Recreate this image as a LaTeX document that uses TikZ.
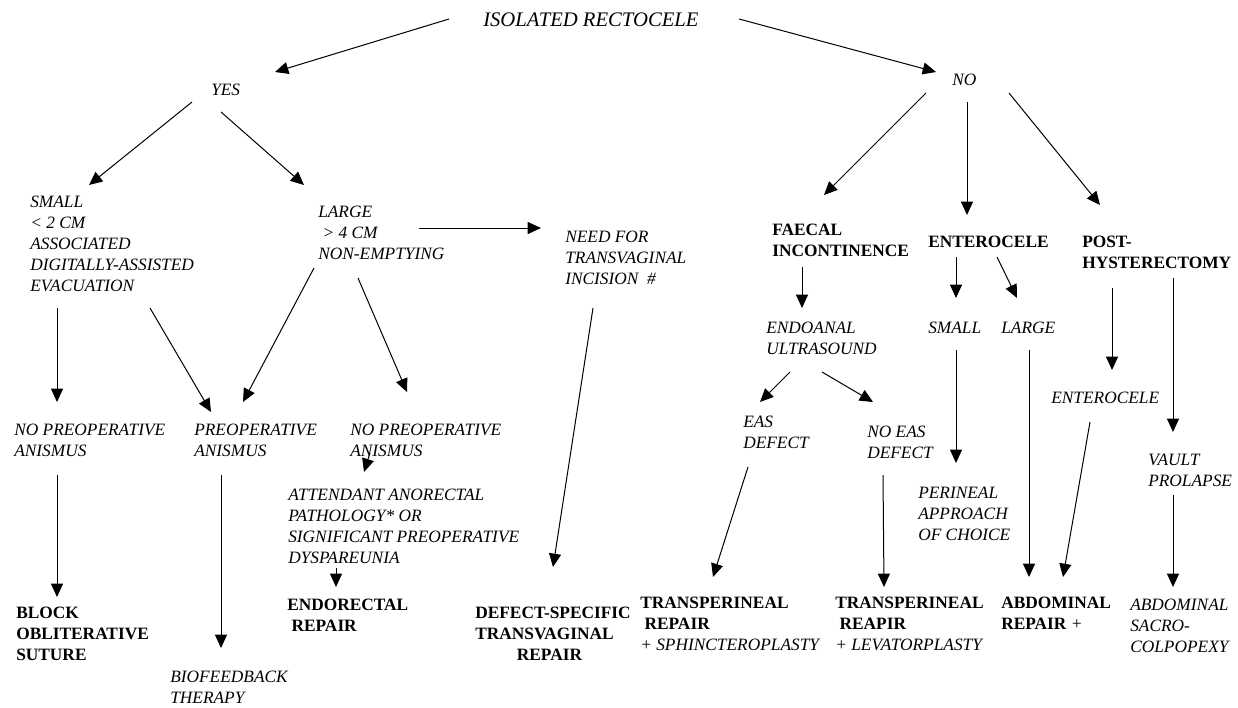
\documentclass[tikz,border=0pt]{standalone}
\usepackage{fontspec}
\setmainfont{Liberation Serif}
\usepackage{tikz}
\usetikzlibrary{arrows.meta}

\tikzset{
  cond/.style={anchor=base west, inner sep=0pt, align=left, font=\itshape},
  treat/.style={anchor=base west, inner sep=0pt, align=left, font=\bfseries},
  arr/.style={->, line width=0.75pt}
}

\begin{document}
\begin{tikzpicture}[x=0.75pt,y=-0.75pt,>={Triangle[length=10pt,width=9pt]}]
  \fontsize{13}{15.75}\selectfont
  \useasboundingbox (0,0) rectangle (1238,707);
  % top of the tree (nodes sit on the baseline of their last line)
  \node[cond, font=\itshape\fontsize{15.5}{18}\selectfont] (iso) at (483,26) {ISOLATED RECTOCELE};
  \node[cond] (yes) at (211,95) {YES};
  \node[cond] (no) at (952,85) {NO};
  % isolated: yes
  \node[cond] (small) at (30,291) {SMALL\\< 2 CM\\ASSOCIATED\\DIGITALLY-ASSISTED\\EVACUATION};
  \node[cond] (large) at (318,259) {LARGE\\\ > 4 CM\\NON-EMPTYING};
  \node[cond] (need) at (565,284) {NEED FOR\\TRANSVAGINAL\\INCISION \ \#};
  \node[cond] (nopreA) at (14,456) {NO PREOPERATIVE\\ANISMUS};
  \node[cond] (preop) at (194,456) {PREOPERATIVE\\ANISMUS};
  \node[cond] (nopreB) at (350,456) {NO PREOPERATIVE\\ANISMUS};
  \node[cond] (attend) at (288,563) {ATTENDANT ANORECTAL\\PATHOLOGY* OR\\SIGNIFICANT PREOPERATIVE\\DYSPAREUNIA};
  \node[treat] (block) at (16,660) {BLOCK\\OBLITERATIVE\\SUTURE};
  \node[cond] (biofb) at (170,703) {BIOFEEDBACK\\THERAPY};
  \node[treat] (endorect) at (287,631) {ENDORECTAL\\\ REPAIR};
  \node[treat] (defect) at (475,660) {DEFECT-SPECIFIC\\TRANSVAGINAL\\\hspace*{2.4em}REPAIR};
  % isolated: no
  \node[treat] (faecal) at (772,256) {FAECAL\\INCONTINENCE};
  \node[treat] (entero) at (928,247) {ENTEROCELE};
  \node[treat] (post) at (1082,268) {POST-\\HYSTERECTOMY};
  \node[cond] (endo) at (766,354) {ENDOANAL\\ULTRASOUND};
  \node[cond] (esmall) at (928,333) {SMALL};
  \node[cond] (elarge) at (1001,333) {LARGE};
  \node[cond] (pentero) at (1051,403) {ENTEROCELE};
  \node[cond] (vault) at (1148,486) {VAULT\\PROLAPSE};
  \node[cond] (eas) at (743,448) {EAS\\DEFECT};
  \node[cond] (noeas) at (867,458) {NO EAS\\DEFECT};
  \node[cond] (perineal) at (918,540) {PERINEAL\\APPROACH\\OF CHOICE};
  \node[treat] (transA) at (640,650) {TRANSPERINEAL\\\ REPAIR\\\textmd{\itshape + SPHINCTEROPLASTY}};
  \node[treat] (transB) at (835,650) {TRANSPERINEAL\\\ REAPIR\\\textmd{\itshape + LEVATORPLASTY}};
  \node[treat] (abdrep) at (1001,629) {ABDOMINAL\\REPAIR \textmd{\itshape +}};
  \node[cond] (sacro) at (1130,652) {ABDOMINAL\\SACRO-\\COLPOPEXY};

  % connectors
  \draw[arr] ([shift={(-34,-7)}]iso.base west) -- ([shift={(64,-23)}]yes.base west);
  \draw[arr] ([shift={(256,-7)}]iso.base west) -- ([shift={(-16,-13)}]no.base west);
  \draw[arr] ([shift={(-19,7)}]yes.base west) -- ([shift={(59,-106)}]small.base west);
  \draw[arr] ([shift={(10,17)}]yes.base west) -- ([shift={(-14,-74)}]large.base west);
  \draw[arr] ([shift={(101,-31)}]large.base west) -- ([shift={(-24,-56)}]need.base west);
  \draw[arr] ([shift={(-26,8)}]no.base west) -- ([shift={(52,-61)}]faecal.base west);
  \draw[arr] ([shift={(15,17)}]no.base west) -- ([shift={(39,-32)}]entero.base west);
  \draw[arr] ([shift={(57,8)}]no.base west) -- ([shift={(18,-63)}]post.base west);
  \draw[arr] ([shift={(27,17)}]small.base west) -- ([shift={(43,-54)}]nopreA.base west);
  \draw[arr] ([shift={(120,17)}]small.base west) -- ([shift={(17,-44)}]preop.base west);
  \draw[arr] ([shift={(-4,9)}]large.base west) -- ([shift={(49,-54)}]preop.base west);
  \draw[arr] ([shift={(40,19)}]large.base west) -- ([shift={(57,-64)}]nopreB.base west);
  \draw[arr] ([shift={(28,24)}]need.base west) -- ([shift={(78,-93)}]defect.base west);
  \draw[arr] ([shift={(30,11)}]faecal.base west) -- ([shift={(36,-46)}]endo.base west);
  \draw[arr] ([shift={(24,18)}]endo.base west) -- ([shift={(17,-46)}]eas.base west);
  \draw[arr] ([shift={(56,18)}]endo.base west) -- ([shift={(6,-56)}]noeas.base west);
  \draw[arr] ([shift={(28,10)}]entero.base west) -- ([shift={(28,-35)}]esmall.base west);
  \draw[arr] ([shift={(69,10)}]entero.base west) -- ([shift={(16,-35)}]elarge.base west);
  \draw[arr] ([shift={(30,20)}]post.base west) -- ([shift={(61,-33)}]pentero.base west);
  \draw[arr] ([shift={(91,10)}]post.base west) -- ([shift={(25,-54)}]vault.base west);
  \draw[arr] ([shift={(28,17)}]esmall.base west) -- ([shift={(38,-77)}]perineal.base west);
  \draw[arr] ([shift={(28,17)}]elarge.base west) -- ([shift={(28,-52)}]abdrep.base west);
  \draw[arr] ([shift={(39,19)}]pentero.base west) -- ([shift={(62,-52)}]abdrep.base west);
  \draw[arr] ([shift={(5,19)}]eas.base west) -- ([shift={(73,-73)}]transA.base west);
  \draw[arr] ([shift={(16,17)}]noeas.base west) -- ([shift={(49,-63)}]transB.base west);
  \draw[arr] ([shift={(25,9)}]vault.base west) -- ([shift={(43,-65)}]sacro.base west);
  \draw[arr] ([shift={(43,19)}]nopreA.base west) -- ([shift={(41,-63)}]block.base west);
  \draw[arr] ([shift={(27,19)}]preop.base west) -- ([shift={(51,-55)}]biofb.base west);
  \draw[arr] ([shift={(20,-3)}]nopreB.base west) -- ([shift={(76,-91)}]attend.base west);
  \draw[arr] ([shift={(48,5)}]attend.base west) -- ([shift={(49,-44)}]endorect.base west);
\end{tikzpicture}
\end{document}
